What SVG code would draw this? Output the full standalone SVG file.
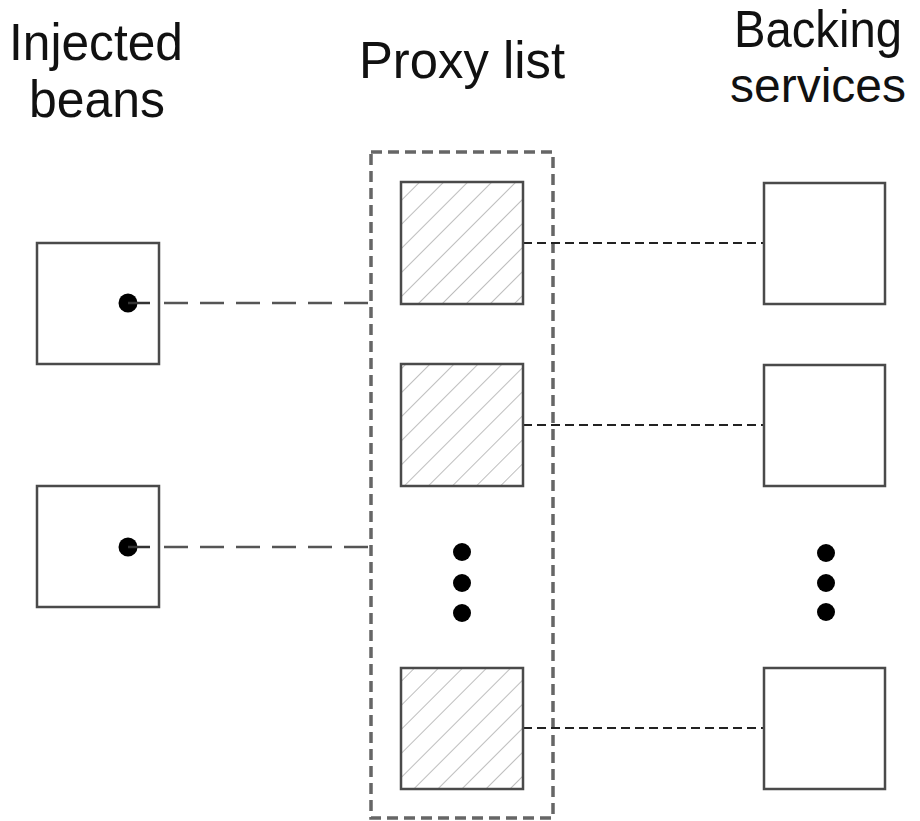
<svg xmlns="http://www.w3.org/2000/svg" width="920" height="821" viewBox="0 0 920 821">
  <defs>
    <pattern id="hatch" patternUnits="userSpaceOnUse" width="17" height="17" patternTransform="rotate(45)">
      <line x1="0" y1="0" x2="0" y2="17" stroke="#9a9a9a" stroke-width="1.3"/>
    </pattern>
  </defs>
  <style>
    .lbl { font-family: "Liberation Sans", Arial, sans-serif; font-size: 52px; fill: #111; text-anchor: middle; }
    .box { fill: #fff; stroke: #4a4a4a; stroke-width: 2.5; }
    .hbox { fill: url(#hatch); stroke: #4a4a4a; stroke-width: 2.5; }
    .container { fill: none; stroke: #666; stroke-width: 3.5; stroke-dasharray: 11 6; }
    .longdash { stroke: #555; stroke-width: 2.5; stroke-dasharray: 24 12; fill: none; }
    .shortdash { stroke: #222; stroke-width: 2; stroke-dasharray: 9 5; fill: none; }
    .dot { fill: #000; }
  </style>
  <rect width="920" height="821" fill="#fff"/>

  <g id="labels">
    <text class="lbl" x="96" y="60" textLength="174" lengthAdjust="spacingAndGlyphs">Injected</text>
    <text class="lbl" x="97" y="117" textLength="136" lengthAdjust="spacingAndGlyphs">beans</text>
    <text class="lbl" x="462" y="78" textLength="206" lengthAdjust="spacingAndGlyphs">Proxy list</text>
    <text class="lbl" x="818" y="47" textLength="168" lengthAdjust="spacingAndGlyphs">Backing</text>
    <text class="lbl" x="818" y="102" style="font-size:48px">services</text>
  </g>

  <g id="proxy-list">
    <rect class="container" x="371" y="152" width="182" height="666"/>
  </g>

  <g id="connectors">
    <line class="longdash" x1="128" y1="303" x2="371" y2="303"/>
    <line class="longdash" x1="128" y1="547" x2="371" y2="547"/>
    <line class="shortdash" x1="523" y1="243" x2="764" y2="243"/>
    <line class="shortdash" x1="523" y1="425" x2="764" y2="425"/>
    <line class="shortdash" x1="523" y1="728" x2="764" y2="728"/>
  </g>

  <g id="bean1">
    <rect class="box" x="37" y="243" width="122" height="121"/>
    <circle class="dot" cx="128" cy="303" r="9.5"/>
    <line x1="128" y1="303" x2="150" y2="303" stroke="#333" stroke-width="2.5"/>
  </g>
  <g id="bean2">
    <rect class="box" x="37" y="486" width="122" height="121"/>
    <circle class="dot" cx="128" cy="547" r="9.5"/>
    <line x1="128" y1="547" x2="150" y2="547" stroke="#333" stroke-width="2.5"/>
  </g>

  <g id="proxy1"><rect class="hbox" x="401" y="182" width="122" height="122"/></g>
  <g id="proxy2"><rect class="hbox" x="401" y="364" width="122" height="122"/></g>
  <g id="proxy-ellipsis">
    <circle class="dot" cx="462" cy="552" r="9"/>
    <circle class="dot" cx="462" cy="583" r="9"/>
    <circle class="dot" cx="462" cy="613" r="9"/>
  </g>
  <g id="proxy3"><rect class="hbox" x="401" y="668" width="122" height="121"/></g>

  <g id="service1"><rect class="box" x="764" y="183" width="121" height="121"/></g>
  <g id="service2"><rect class="box" x="764" y="365" width="121" height="121"/></g>
  <g id="service-ellipsis">
    <circle class="dot" cx="826" cy="553" r="9"/>
    <circle class="dot" cx="826" cy="583" r="9"/>
    <circle class="dot" cx="826" cy="612" r="9"/>
  </g>
  <g id="service3"><rect class="box" x="764" y="668" width="121" height="121"/></g>
</svg>
